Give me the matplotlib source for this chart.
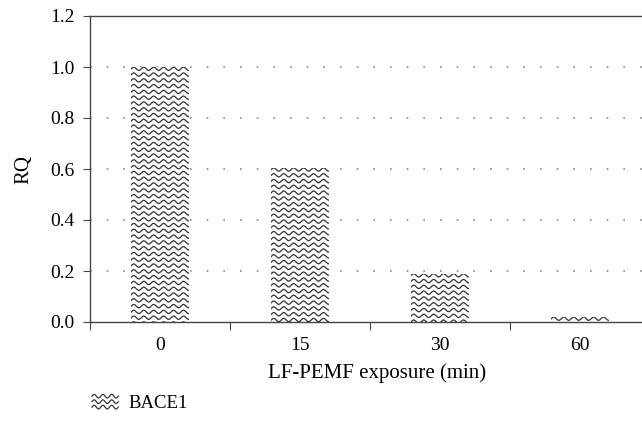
import numpy as np
import matplotlib.pyplot as plt
from matplotlib.legend_handler import HandlerBase
from matplotlib.lines import Line2D
from matplotlib.patches import Rectangle

plt.rcParams['font.family'] = ['Liberation Serif', 'DejaVu Serif']

categories = ['0', '15', '30', '60']
rq = [1.0, 0.605, 0.19, 0.02]
yticks = [0.0, 0.2, 0.4, 0.6, 0.8, 1.0, 1.2]
series_name = 'BACE1'

wave_col = '#333333'

fig = plt.figure(figsize=(6.42, 4.21), dpi=100)
ax = fig.add_axes([90 / 642, 1 - 322 / 421, 560 / 642, 306 / 421])

x = np.arange(len(categories))
bars = ax.bar(x, rq, width=0.41, color='white', edgecolor='none', zorder=2)

ax.set_xlim(-0.5, 3.5)
ax.set_ylim(0, 1.2)

# wavy fill, clipped to each bar
period = 0.071
amp = 0.0065
row_gap = 0.0227
for b in bars:
    x0, w, h = b.get_x(), b.get_width(), b.get_height()
    xs = np.linspace(x0 - period, x0 + w + period, 400)
    y = h - 0.007
    while y > -row_gap:
        ys = y + amp * np.sin(2 * np.pi * (xs - x0) / period)
        ln = ax.plot(xs, ys, color=wave_col, lw=0.9, zorder=3)[0]
        ln.set_clip_path(b)
        y -= row_gap

ax.set_yticks(yticks)
ax.set_yticklabels(['%.1f' % v for v in yticks])
ax.set_xticks(np.arange(-0.5, 4.0, 1.0))
ax.set_xticklabels([])
ax.set_xticks(x, minor=True)
ax.set_xticklabels(categories, minor=True)
ax.tick_params(axis='x', which='minor', length=0, pad=11, labelsize=14)
ax.tick_params(axis='x', which='major', length=6, direction='out', color='#444')
ax.tick_params(axis='y', length=5, direction='out', color='#444', labelsize=14, pad=6)

for v in yticks[1:-1]:
    ax.axhline(v, color='#8a8a8a', lw=1.2, ls=(0, (1, 9)), zorder=1)

for s in ['left', 'bottom', 'top', 'right']:
    ax.spines[s].set_color('#444')
    ax.spines[s].set_linewidth(1.0)

ax.set_ylabel('RQ', fontsize=15)
ax.set_xlabel('LF-PEMF exposure (min)', fontsize=15)
ax.yaxis.set_label_coords(-(90 - 33) / 560, 0.5)
ax.xaxis.set_label_coords((377 - 90) / 560, -0.135)


class WaveHandler(HandlerBase):
    def create_artists(self, legend, orig_handle, xdescent, ydescent,
                       width, height, fontsize, trans):
        arts = []
        xs = np.linspace(0, width, 100)
        for k in range(3):
            yy = height * (0.85 - k * 0.35) + 1.3 * np.sin(2 * np.pi * xs / (width / 3.0))
            ln = Line2D(xs - xdescent, yy - ydescent, color=wave_col, lw=0.9)
            ln.set_transform(trans)
            arts.append(ln)
        return arts


handle = Rectangle((0, 0), 1, 1)
fig.legend([handle], [series_name], handler_map={Rectangle: WaveHandler()},
           loc='center left', bbox_to_anchor=(92 / 642, 1 - 403 / 421),
           frameon=False, fontsize=13.5, handlelength=1.4, handleheight=0.9,
           handletextpad=0.55, borderpad=0, borderaxespad=0)

fig.savefig('out.png', dpi=100)
